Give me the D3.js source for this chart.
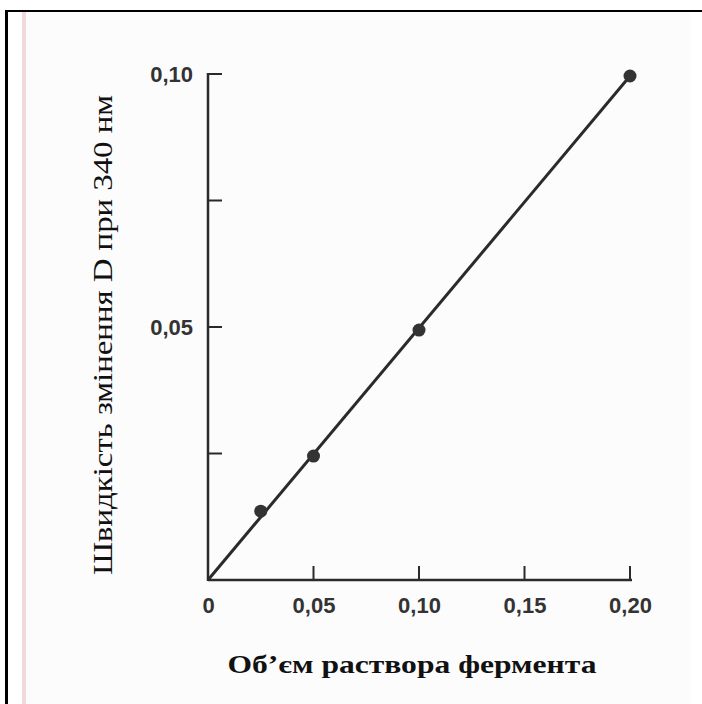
<!DOCTYPE html>
<html><head><meta charset="utf-8">
<script src="https://cdn.jsdelivr.net/npm/d3@7"></script>
<style>html,body{margin:0;padding:0;background:#fff;}svg{display:block;}</style>
</head><body>
<script>
const xValues = [0.025, 0.05, 0.10, 0.20];
const yValues = [0.0136, 0.0245, 0.0494, 0.0996];
const lineX = [0, 0.20];
const lineY = [0, 0.0996];
const xTickValues = [0, 0.05, 0.10, 0.15, 0.20];
const xTickLabels = ["0", "0,05", "0,10", "0,15", "0,20"];
const yTickValues = [0.05, 0.10];
const yTickLabels = ["0,05", "0,10"];
const yMinorTicks = [0.025, 0.075];
const xTitle = "Об\u02bcєм раствора фермента";
const yTitle = "Швидкість змінення D при 340 нм";

const W = 702, H = 704;
const svg = d3.select("body").append("svg").attr("width", W).attr("height", H);

// frame
svg.append("rect").attr("x", 26).attr("y", 12).attr("width", 664).attr("height", H - 12).attr("fill", "#fcfcfc");
svg.append("rect").attr("x", 22).attr("y", 12).attr("width", 4).attr("height", H - 12).attr("fill", "#f0dada");
svg.append("rect").attr("x", 5).attr("y", 10).attr("width", 3).attr("height", H - 10).attr("fill", "#000");
svg.append("rect").attr("x", 5).attr("y", 10).attr("width", W - 5).attr("height", 2).attr("fill", "#000");

const x = d3.scaleLinear().domain([0, 0.20]).range([208, 630]);
const y = d3.scaleLinear().domain([0, 0.10]).range([580, 74]);
const ink = "#2a2a2a";
const tickFont = "Liberation Sans, Arial, sans-serif";

const xAxis = d3.axisBottom(x).tickValues(xTickValues).tickSize(0).tickPadding(17)
  .tickFormat((d, i) => xTickLabels[i]);
const gx = svg.append("g").attr("transform", "translate(0,580)").call(xAxis);
gx.select(".domain").attr("stroke", ink).attr("stroke-width", 2.5).attr("d", `M208,0H632`);
gx.selectAll("text").attr("font-family", tickFont).attr("font-weight", "bold")
  .attr("font-size", 22).attr("fill", "#333");

svg.append("g").selectAll("line").data(xTickValues.filter(d => d > 0)).join("line")
  .attr("x1", d => x(d)).attr("x2", d => x(d)).attr("y1", 580).attr("y2", 566)
  .attr("stroke", ink).attr("stroke-width", 2);

const yAxis = d3.axisLeft(y).tickValues(yTickValues).tickSize(0).tickPadding(15)
  .tickFormat((d, i) => yTickLabels[i]);
const gy = svg.append("g").attr("transform", "translate(208,0)").call(yAxis);
gy.select(".domain").attr("stroke", ink).attr("stroke-width", 2.5).attr("d", `M0,581V73`);
gy.selectAll("text").attr("font-family", tickFont).attr("font-weight", "bold")
  .attr("font-size", 22).attr("fill", "#333");

svg.append("g").selectAll("line").data(yTickValues.concat(yMinorTicks)).join("line")
  .attr("x1", 208).attr("x2", 222).attr("y1", d => y(d)).attr("y2", d => y(d))
  .attr("stroke", ink).attr("stroke-width", 2);

const line = d3.line().x(d => x(d[0])).y(d => y(d[1]));
svg.append("path").datum(lineX.map((v, i) => [v, lineY[i]])).attr("d", line)
  .attr("fill", "none").attr("stroke", ink).attr("stroke-width", 3);

svg.append("g").selectAll("circle").data(xValues.map((v, i) => [v, yValues[i]])).join("circle")
  .attr("cx", d => x(d[0])).attr("cy", d => y(d[1])).attr("r", 6.5).attr("fill", "#333");

svg.append("text").attr("x", 412).attr("y", 673).attr("text-anchor", "middle")
  .attr("font-family", "Liberation Serif, Times New Roman, serif").attr("font-weight", "bold")
  .attr("font-size", 25).attr("fill", "#111")
  .attr("textLength", 369).attr("lengthAdjust", "spacingAndGlyphs").text(xTitle);

svg.append("text").attr("transform", "translate(112,335) rotate(-90)").attr("text-anchor", "middle")
  .attr("font-family", "Liberation Serif, Times New Roman, serif")
  .attr("font-size", 27).attr("fill", "#111")
  .attr("textLength", 480).attr("lengthAdjust", "spacingAndGlyphs").text(yTitle);
</script>
</body></html>
